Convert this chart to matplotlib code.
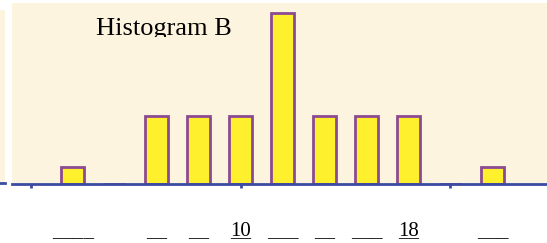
import matplotlib
matplotlib.use("Agg")
import matplotlib.pyplot as plt
from matplotlib.transforms import Bbox, TransformedBbox, blended_transform_factory

# Data
bin_centers = [2, 4, 6, 8, 10, 12, 14, 16, 18, 20, 22]
counts = [1, 0, 4, 4, 4, 10, 4, 4, 4, 0, 1]
label_positions = [2, 6, 8, 10, 12, 14, 16, 18, 22]
label_texts = ["", "", "", "10", "", "", "", "18", ""]
label_blanks = ["____", "__", "__", "__", "___", "__", "___", "__", "___"]
tick_values = [0, 10, 20]
title_text = "Histogram B"

cream = "#FDF4DF"
blue = "#3B4BA3"
fill = "#FFF02E"
edge = "#8C4A92"

fig = plt.figure(figsize=(5.47, 2.43), dpi=100)

# left sliver panel
ax0 = fig.add_axes([0.0, 0.247, 5 / 547, 0.712])
ax0.set_facecolor(cream)
for s in ax0.spines.values():
    s.set_visible(False)
ax0.spines["bottom"].set_visible(True)
ax0.spines["bottom"].set_color(blue)
ax0.spines["bottom"].set_linewidth(2)
ax0.set_xticks([])
ax0.set_yticks([])

ax = fig.add_axes([12 / 547, 59 / 243, 535 / 547, 181 / 243])
ax.set_facecolor(cream)
ax.bar(bin_centers, counts, width=1.1, color=fill, edgecolor=edge, linewidth=2.0)
ax.set_xlim(-0.9, 24.6)
ax.set_ylim(0, 10.6)
for s in ["top", "left", "right"]:
    ax.spines[s].set_visible(False)
ax.spines["bottom"].set_color(blue)
ax.spines["bottom"].set_linewidth(2)
ax.set_yticks([])
ax.set_xticks(tick_values)
ax.set_xticklabels([])
ax.tick_params(axis="x", direction="out", length=3, width=2, color=blue)

trans = blended_transform_factory(ax.transData, ax.transAxes)
for x, lab, blank in zip(label_positions, label_texts, label_blanks):
    if lab:
        ax.text(x, -0.29, lab, transform=trans, ha="center", va="baseline",
                fontsize=15, family="Liberation Serif", color="black", clip_on=False)
    ax.text(x, -0.29, blank, transform=trans, ha="center", va="baseline",
            fontsize=15, family="Liberation Serif", color="black", clip_on=False)

t = ax.text(6.33, 0.823, title_text, transform=trans, ha="center", va="baseline",
            fontsize=19, family="Liberation Serif", color="black")
t.set_clip_on(True)
t.set_clip_box(TransformedBbox(Bbox([[0, 0.81], [1, 1]]), ax.transAxes))

fig.savefig("out.png", dpi=100, facecolor="white")
